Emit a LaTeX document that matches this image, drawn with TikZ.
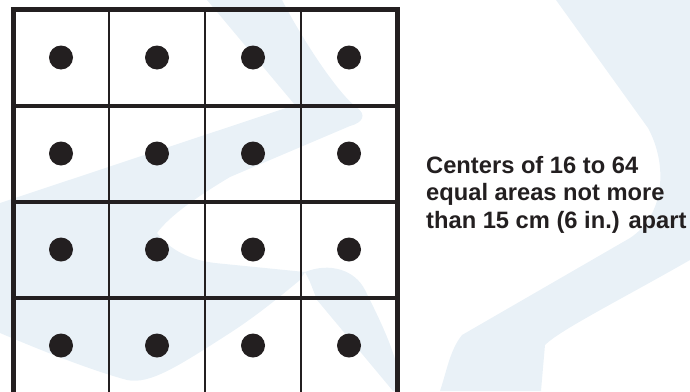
\documentclass[tikz,border=0pt]{standalone}
\usepackage{fontspec}
\setmainfont{Liberation Sans}
\definecolor{ink}{HTML}{231F20}
\definecolor{wm}{RGB}{233,241,247}
\tikzset{
  outerline/.style={draw=ink, line width=4.8pt},
  hline/.style={draw=ink, line width=4pt},
  vline/.style={draw=ink, line width=2pt},
  dotnode/.style={circle, fill=ink, draw=none, minimum size=24pt, inner sep=0pt},
  label/.style={anchor=base west, inner sep=0pt, text=ink, font=\fontsize{23.7}{27.5}\selectfont\bfseries},
}
\begin{document}
\begin{tikzpicture}[x=1pt,y=-1pt]
\useasboundingbox (0,0) rectangle (690,391);
\clip (0,0) rectangle (690,391);
% watermark
\fill[wm] (556,0) -- (690,0) -- (690,260) .. controls (620,300) and (560,330) .. (545,345) -- (541,391) -- (440,391) .. controls (447,370) and (450,350) .. (462,335) -- (630,238) .. controls (665,215) and (668,165) .. (648,128) -- cycle;
\fill[wm] (0,203) -- (295,105) -- (207,0) -- (282,0) .. controls (300,35) and (335,90) .. (356,107) .. controls (368,115) and (362,123) .. (350,126) -- (230,177) .. controls (200,195) and (170,215) .. (157,233) .. controls (170,250) and (190,260) .. (215,263) -- (305,272) -- (300,280) .. controls (270,305) and (250,320) .. (230,333) .. controls (180,365) and (150,385) .. (127,380) .. controls (90,370) and (40,350) .. (0,333) -- cycle;
\fill[wm] (305,272) .. controls (330,262) and (355,270) .. (365,290) .. controls (380,320) and (392,345) .. (398,370) -- (399,391) -- (393,391) -- (317,300) -- (310,282) -- cycle;
% grid
\foreach \x in {109,205,301} \draw[vline] (\x,8) -- (\x,400);
\foreach \y in {105.5,201.5,297.5} \draw[hline] (11,\y) -- (399.5,\y);
\draw[outerline] (10.8,9.7) -- (399.8,9.7);
\draw[outerline] (13.2,7.3) -- (13.2,400);
\draw[outerline] (397.5,7.3) -- (397.5,400);
% dots
\foreach \i/\x in {1/61,2/157,3/253,4/349}
  \foreach \j/\y in {1/57.5,2/153.5,3/249.5,4/345.5}
    \node[dotnode] (d\i\j) at (\x,\y) {};
% text
\node[label] (t1) at (426,173) {Centers of 16 to 64};
\node[label] (t2) at (426,200.5) {equal areas not more};
\node[label] (t3) at (426,228) {than 15 cm (6 in.) apart};
\end{tikzpicture}
\end{document}
